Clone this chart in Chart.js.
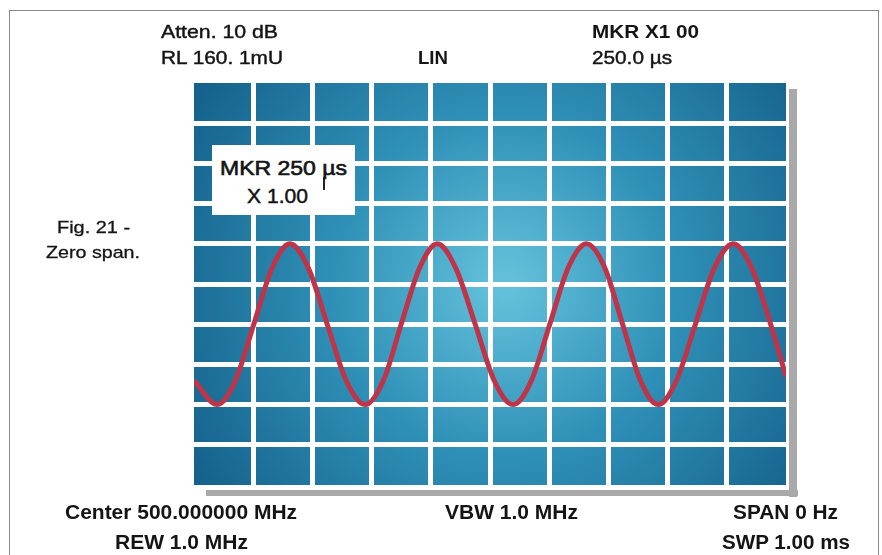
<!DOCTYPE html>
<html>
<head>
<meta charset="utf-8">
<script src="https://cdn.jsdelivr.net/npm/chart.js@4.4.1/dist/chart.umd.min.js"></script>
<style>
  html, body { margin: 0; padding: 0; background: #fff; }
  #wrap { position: relative; width: 882px; height: 555px; overflow: hidden; }
  #frame { position: absolute; left: 9px; top: 10px; width: 870px; height: 600px; border: 1px solid #8a8a8a; box-sizing: border-box; }
  #chart { position: absolute; left: 0; top: 0; }
  .lbl { position: absolute; white-space: nowrap; font-family: "Liberation Sans", Arial, sans-serif; color: #141414; transform-origin: 0 50%; }
  #mkrbox { position: absolute; left: 212px; top: 145px; width: 143px; height: 70px; background: #fff; }
  #mkrtick { position: absolute; left: 323px; top: 177px; width: 1.5px; height: 13px; background: #222; }
</style>
</head>
<body>
<div id="wrap">
  <div id="frame"></div>
  <canvas id="chart" width="882" height="555"></canvas>
  <div id="mkrbox"></div>
  <div id="mkrtick"></div>
</div>
<script>
// sweep time (µs) and trace level (divisions from bottom)
const timeUs = [0, 39, 70, 101, 132, 162, 193, 225, 257, 289, 320, 350, 381, 411, 442, 475,
  507, 539, 570, 601, 632, 663, 694, 724, 754, 784, 815, 847, 879, 911, 942, 974, 1000];
const level = [2.6, 2.0, 2.6, 4.0, 5.4, 6.0, 5.4, 4.0, 2.6, 2.0, 2.6, 4.0, 5.4, 6.0, 5.4, 4.0,
  2.6, 2.0, 2.6, 4.0, 5.4, 6.0, 5.4, 4.0, 2.6, 2.0, 2.6, 4.0, 5.4, 6.0, 5.4, 4.0, 2.7];

const xDivs = 10;   // 100 µs / div
const yDivs = 10;

// screen annotations
const labels = [
  // text, left, width, centerY, size, weight, stroke
  ["Atten. 10 dB", 161, 117, 31, 19, "normal", 0.45],
  ["RL 160. 1mU", 161, 122, 57, 19, "normal", 0.45],
  ["LIN", 418, 30, 57, 19, "bold", 0],
  ["MKR X1 00", 592, 107, 31, 19, "bold", 0],
  ["250.0 µs", 592, 80, 57, 19, "normal", 0.45],
  ["Fig. 21 -", 57, 73, 227, 17, "normal", 0.3],
  ["Zero span.", 46, 94, 252, 17, "normal", 0.3],
  ["MKR  250 µs", 220, 127, 168, 20, "normal", 0.6],
  ["X 1.00", 247, 61, 196, 20, "normal", 0.45],
  ["Center 500.000000 MHz", 65, 232, 512, 20, "bold", 0],
  ["REW 1.0 MHz", 115, 133, 542, 20, "bold", 0],
  ["VBW 1.0 MHz", 445, 133, 512, 20, "bold", 0],
  ["SPAN 0 Hz", 733, 105, 512, 20, "bold", 0],
  ["SWP 1.00 ms", 722, 128, 542, 20, "bold", 0],
];

const screenBg = {
  id: "screenBg",
  beforeDraw(chart) {
    const { ctx, chartArea: a } = chart;
    ctx.save();
    // drop shadow of the screen
    ctx.fillStyle = "#a9a9a9";
    ctx.fillRect(a.right + 3, a.top + 6, 8, a.bottom - a.top + 6);
    ctx.fillRect(a.left + 12, a.bottom + 5, a.right - a.left, 6);
    const g = ctx.createRadialGradient(505, 285, 10, 505, 285, 370);
    g.addColorStop(0, "#62c0da");
    g.addColorStop(0.45, "#2f90b7");
    g.addColorStop(1, "#14608a");
    ctx.fillStyle = g;
    ctx.fillRect(a.left, a.top, a.right - a.left, a.bottom - a.top);
    ctx.restore();
  }
};

const gridColor = (c) => (c.index === 0 || c.index === c.scale.ticks.length - 1) ? "rgba(0,0,0,0)" : "#ffffff";

new Chart(document.getElementById("chart"), {
  type: "line",
  data: {
    datasets: [{
      data: timeUs.map((t, i) => ({ x: t, y: level[i] })),
      borderColor: "#c0344a",
      borderWidth: 5,
      pointRadius: 0,
      cubicInterpolationMode: "monotone",
      fill: false,
    }]
  },
  options: {
    responsive: false,
    animation: false,
    layout: { padding: { left: 194, right: 96, top: 83, bottom: 70 } },
    plugins: { legend: { display: false }, tooltip: { enabled: false } },
    scales: {
      x: {
        type: "linear", min: 0, max: 1000,
        ticks: { display: false, stepSize: 1000 / xDivs },
        grid: { color: gridColor, lineWidth: 5, drawTicks: false },
        border: { display: false },
        afterFit: (s) => { s.height = 0; }
      },
      y: {
        min: 0, max: yDivs,
        ticks: { display: false, stepSize: 1 },
        grid: { color: gridColor, lineWidth: 5, drawTicks: false },
        border: { display: false },
        afterFit: (s) => { s.width = 0; }
      }
    }
  },
  plugins: [screenBg]
});

const wrap = document.getElementById("wrap");
labels.forEach(([text, left, width, cy, size, weight, stroke]) => {
  const d = document.createElement("div");
  d.className = "lbl";
  d.textContent = text;
  d.style.left = left + "px";
  d.style.fontSize = size + "px";
  d.style.lineHeight = size + "px";
  d.style.fontWeight = weight;
  if (stroke) d.style.webkitTextStroke = stroke + "px #141414";
  d.style.top = (cy - size * 0.49) + "px";
  wrap.appendChild(d);
  const w = d.getBoundingClientRect().width;
  d.style.transform = "scaleX(" + (width / w).toFixed(3) + ")";
});
</script>
</body>
</html>
